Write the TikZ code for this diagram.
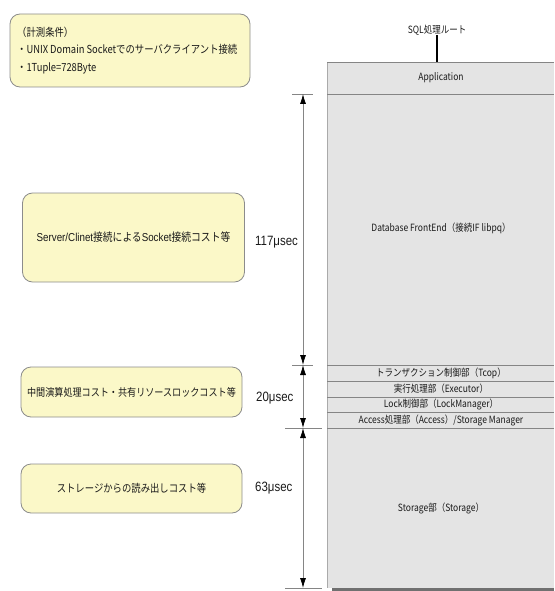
\documentclass[tikz,border=0pt]{standalone}
\usepackage{fontspec}
\setmainfont{Noto Sans CJK JP}[FakeStretch=0.85]
\newfontfamily\numfont[FakeStretch=0.85]{Liberation Sans}
\usetikzlibrary{arrows.meta}
\definecolor{ybox}{HTML}{FBF8C8}
\definecolor{yedge}{HTML}{8C8C8C}
\definecolor{gbox}{HTML}{E4E4E4}
\definecolor{gline}{HTML}{858585}
\definecolor{shadowc}{HTML}{707070}
\definecolor{txt}{HTML}{1A1A1A}
\tikzset{
  note/.style={draw=yedge, fill=ybox, rounded corners=10pt, line width=0.8pt,
    inner sep=0pt, text=txt, font=\fontsize{11}{17.5}\selectfont},
  layer/.style={text=txt, inner sep=0pt, font=\fontsize{10}{11}\selectfont},
  tm/.style={anchor=west, inner sep=0pt, text=txt, font=\numfont\fontsize{13.5}{15}\selectfont},
  tick/.style={draw=gline, line width=0.8pt},
  dimline/.style={draw=gline, line width=0.8pt,
    {Latex[color=black,length=10pt,width=6pt]}-{Latex[color=black,length=10pt,width=6pt]}},
  sep/.style={draw=gline, line width=0.9pt}
}
\begin{document}
\begin{tikzpicture}[x=1pt,y=-1pt]
\useasboundingbox (0,0) rectangle (554,591);
% gray stack
\fill[gbox] (327,62) rectangle (554,588);
\fill[shadowc] (332,587.5) rectangle (554,590.5);
\draw[gline!70, line width=0.8pt] (327,62) -- (327,588);
\foreach \yy in {62,94,365,381,397,412.5,428} {
  \draw[sep] (327,\yy) -- (554,\yy);
}
\node[layer] (sql) at (437,30) {SQL処理ルート};
\coordinate (apptop) at (437,62);
\draw[black, line width=1.4pt] (sql.south) -- (apptop);
\node[layer] (app) at (441,78) {Application};
\node[layer] (fe) at (441,228) {Database FrontEnd（接続IF libpq）};
\node[layer] (tcop) at (441,373) {トランザクション制御部（Tcop）};
\node[layer] (exec) at (441,389) {実行処理部（Executor）};
\node[layer] (lock) at (441,404.8) {Lock制御部（LockManager）};
\node[layer] (acc) at (441,420.3) {Access処理部（Access）/Storage Manager};
\node[layer] (stor) at (441,508) {Storage部（Storage）};
% notes
\node[note, minimum width=240pt, minimum height=73pt] (cond) at (130,50.5) {};
\node[inner sep=0pt, anchor=west, align=left, text=txt, font=\fontsize{11}{17.5}\selectfont] (condtxt) at (17,50.5)
  {（計測条件）\\・UNIX Domain Socketでのサーバクライアント接続\\・1Tuple=728Byte};
\node[note, minimum width=222pt, minimum height=89pt, font=\fontsize{11.5}{14}\selectfont] (n1) at (133.5,237.5)
  {{\numfont Server/Clinet}接続による{\numfont Socket}接続コスト等};
\node[note, minimum width=221pt, minimum height=50pt, font=\fontsize{10.7}{14}\selectfont] (n2) at (131.5,392) {中間演算処理コスト・共有リソースロックコスト等};
\node[note, minimum width=221pt, minimum height=49pt] (n3) at (131.5,488.5) {ストレージからの読み出しコスト等};
% times
\node[tm] (t1) at (255,242) {117μsec};
\node[tm] (t2) at (256,398) {20μsec};
\node[tm] (t3) at (255,488) {63μsec};
% dimension lines
\coordinate (d1) at (303,94);
\coordinate (d2) at (303,365);
\coordinate (d3) at (303,428);
\coordinate (d4) at (303,588);
\draw[tick] (292,94) -- (313,94);
\draw[tick] (292,365) -- (313,365);
\draw[tick] (285,428) -- (322,428);
\draw[tick] (285,588) -- (322,588);
\draw[dimline] (d1) -- (d2);
\draw[dimline] (d2) -- (d3);
\draw[dimline] (d3) -- (d4);
\end{tikzpicture}
\end{document}
